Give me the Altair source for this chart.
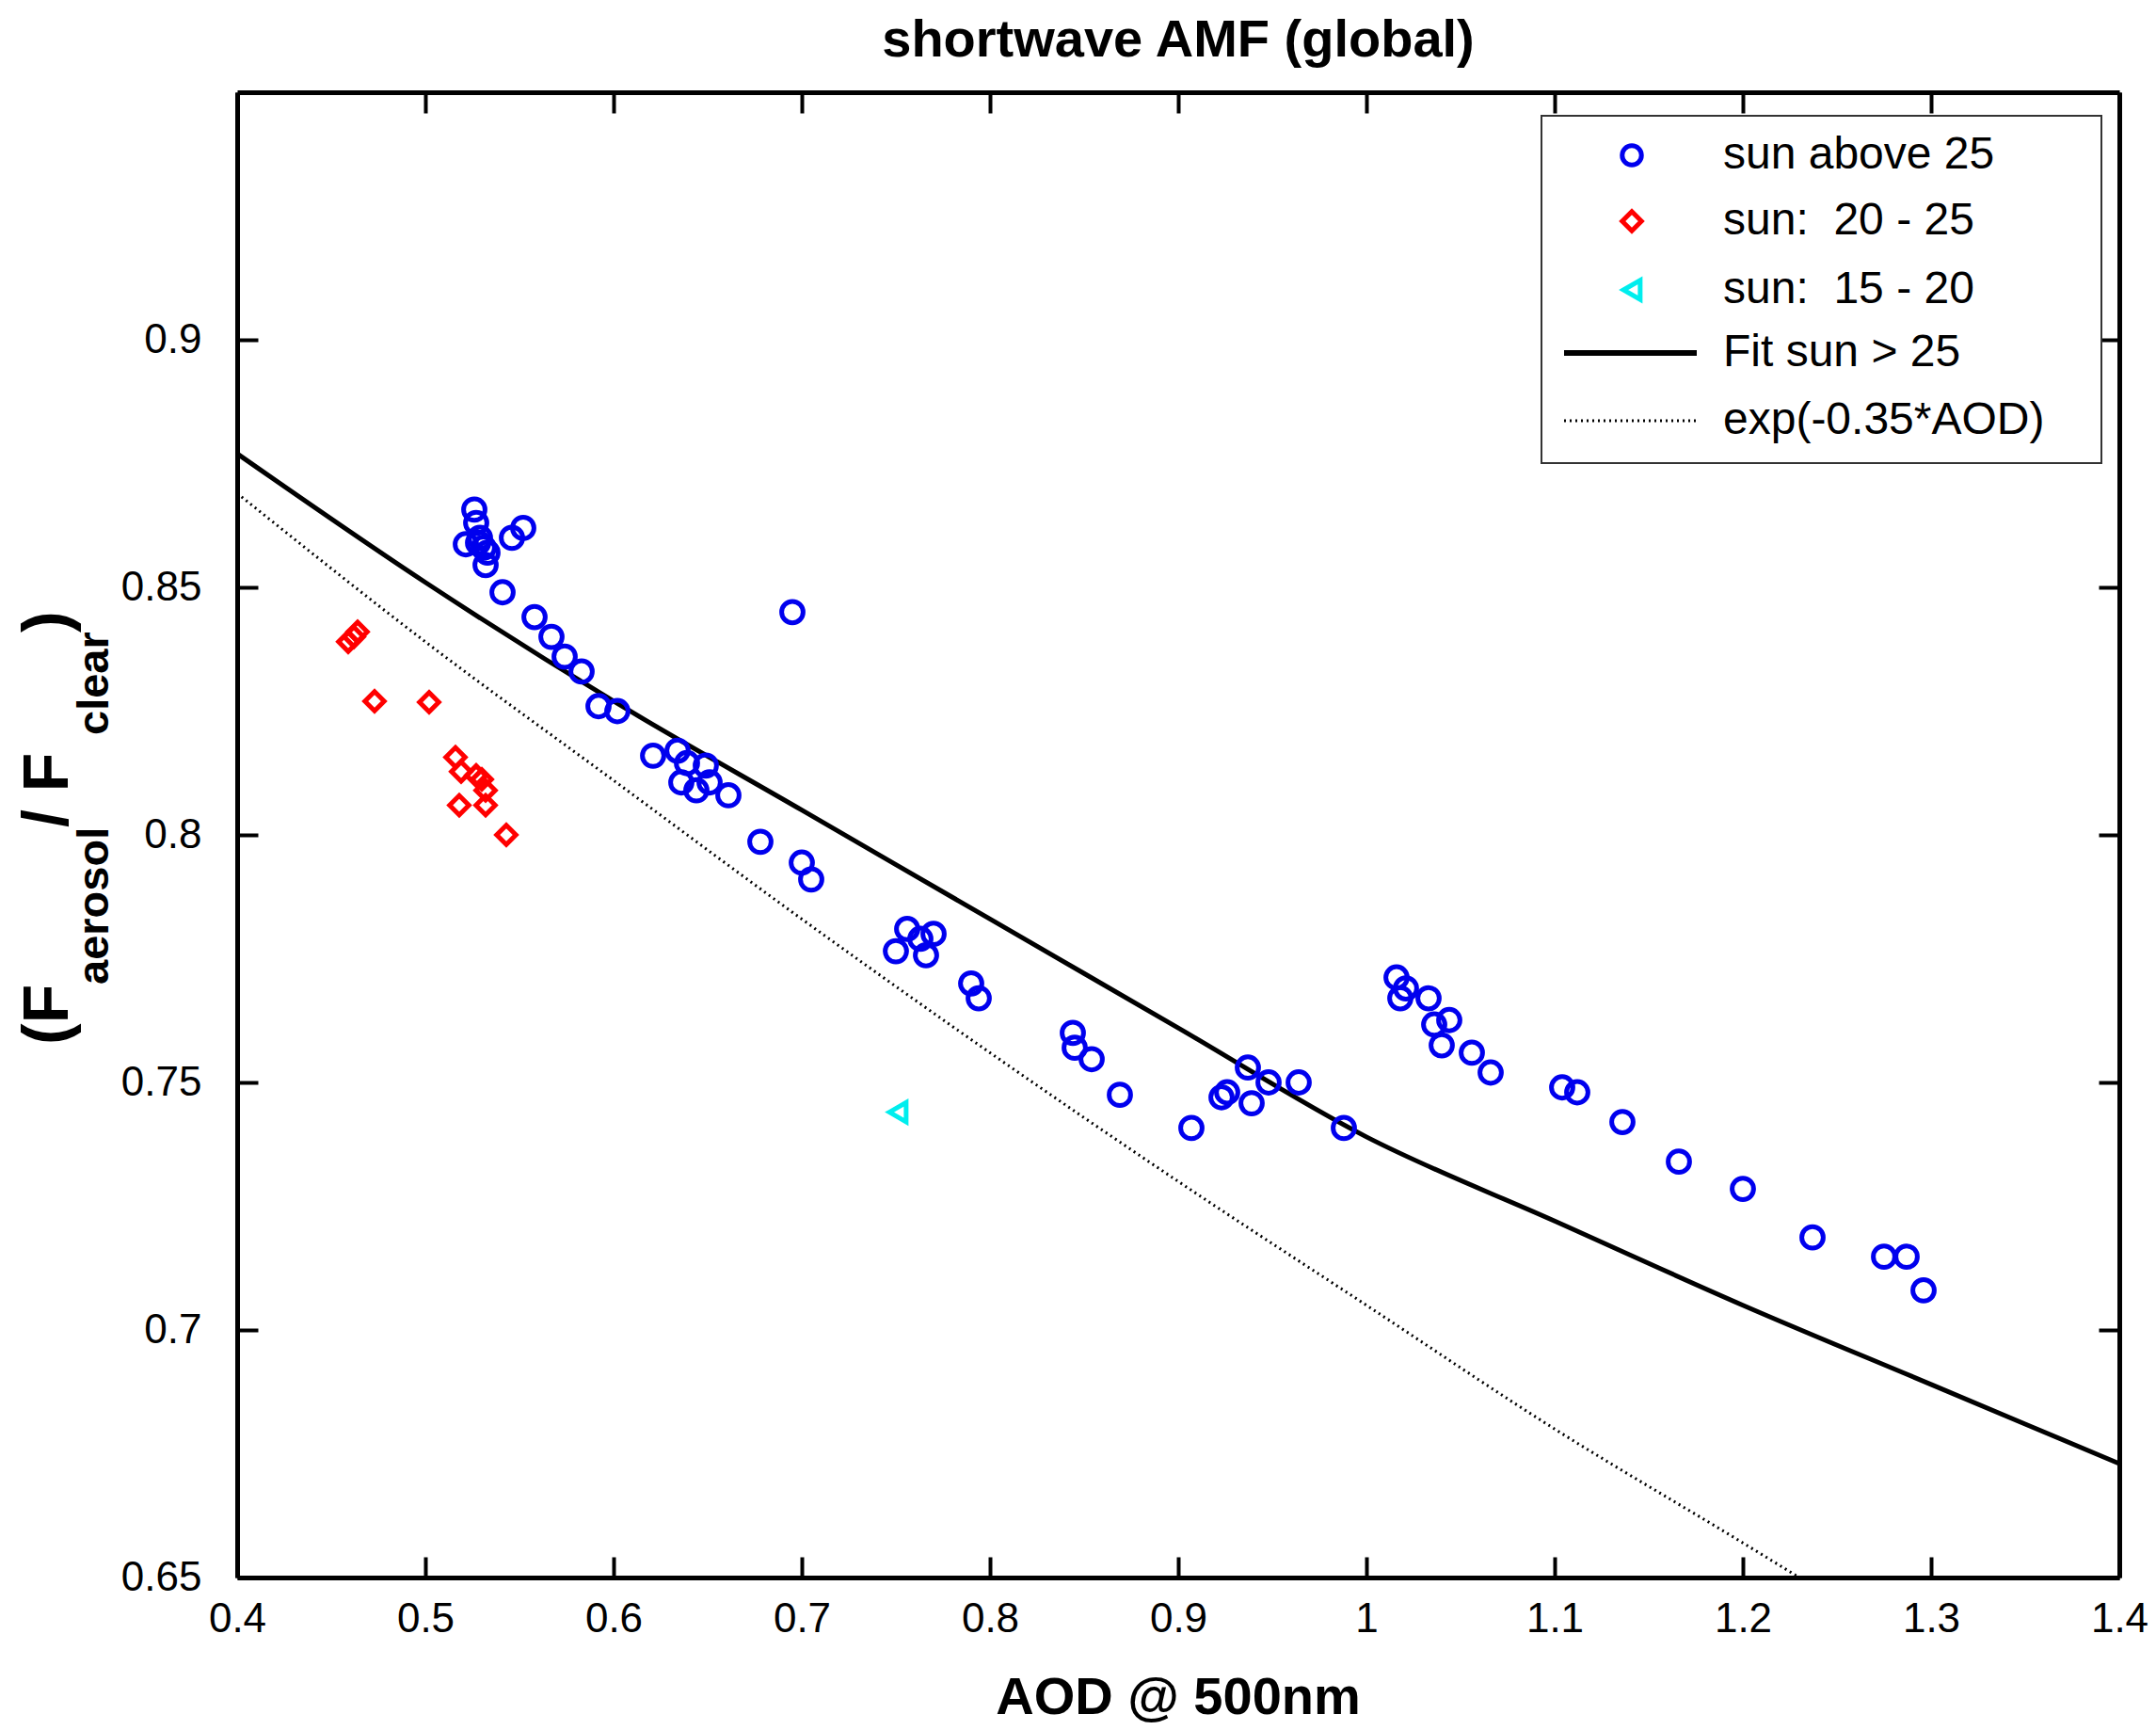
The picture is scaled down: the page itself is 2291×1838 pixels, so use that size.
import altair as alt
import pandas as pd

# sun above 25 (blue circles)
blue_x = [0.5215, 0.526, 0.527, 0.529, 0.531, 0.533, 0.528, 0.532, 0.541, 0.546, 0.552,
          0.558, 0.567, 0.574, 0.583, 0.592, 0.602, 0.621, 0.634, 0.639, 0.636, 0.644,
          0.649, 0.651, 0.661, 0.678, 0.695, 0.700, 0.705, 0.750, 0.756, 0.763, 0.770,
          0.766, 0.790, 0.794, 0.844, 0.845, 0.854, 0.869, 0.907, 0.923, 0.926, 0.937,
          0.939, 0.948, 0.964, 0.988, 1.016, 1.018, 1.021, 1.033, 1.036, 1.044, 1.040,
          1.056, 1.066, 1.104, 1.112, 1.136, 1.166, 1.200, 1.237, 1.275, 1.287, 1.296]
blue_y = [0.8587, 0.8657, 0.8630, 0.8600, 0.8580, 0.8570, 0.8590, 0.8545, 0.849, 0.860, 0.862,
          0.844, 0.840, 0.836, 0.833, 0.826, 0.825, 0.816, 0.817, 0.8145, 0.8106, 0.809,
          0.814, 0.8106, 0.808, 0.7986, 0.845, 0.7944, 0.791, 0.7765, 0.781, 0.779, 0.780,
          0.7757, 0.770, 0.767, 0.760, 0.757, 0.7547, 0.7475, 0.7408, 0.747, 0.748, 0.753,
          0.7458, 0.750, 0.750, 0.7408, 0.7712, 0.767, 0.769, 0.767, 0.7617, 0.7626, 0.7575,
          0.756, 0.752, 0.749, 0.748, 0.742, 0.734, 0.7285, 0.7187, 0.7148, 0.7148, 0.708]

# sun 20 - 25 (red diamonds)
red_x = [0.459, 0.462, 0.464, 0.473, 0.502, 0.516, 0.519, 0.518, 0.527, 0.530, 0.532, 0.532, 0.543]
red_y = [0.839, 0.840, 0.841, 0.827, 0.8268, 0.8157, 0.8128, 0.806, 0.812, 0.8112, 0.809, 0.806, 0.800]

# sun 15 - 20 (cyan triangle)
cyan_x = [0.751]
cyan_y = [0.744]

# fit sun > 25
fit_x = [0.4, 0.5, 0.6, 0.7, 0.8, 0.9, 1.0, 1.1, 1.2, 1.3, 1.4]
fit_y = [0.877, 0.851, 0.827, 0.805, 0.783, 0.761, 0.739, 0.722, 0.705, 0.689, 0.673]

# exp(-0.35*AOD)
exp_x = [0.4, 0.5, 0.6, 0.7, 0.8, 0.9, 1.0, 1.1, 1.2, 1.23]
exp_y = [0.869, 0.839, 0.811, 0.783, 0.756, 0.730, 0.705, 0.680, 0.657, 0.650]

x_ticks = [0.4, 0.5, 0.6, 0.7, 0.8, 0.9, 1.0, 1.1, 1.2, 1.3, 1.4]
y_ticks = [0.65, 0.7, 0.75, 0.8, 0.85, 0.9]

legend_labels = ['sun above 25', 'sun:\u00a0\u00a020 - 25', 'sun:\u00a0\u00a015 - 20', 'Fit sun > 25', 'exp(-0.35*AOD)']

W, H = 2000, 1578
FONT = 'Liberation Sans'
xs = alt.Scale(domain=[0.4, 1.4], nice=False, zero=False)
ys = alt.Scale(domain=[0.65, 0.95], nice=False, zero=False)

main_x = alt.Axis(values=x_ticks, labelExpr="datum.value == 1 ? '1' : format(datum.value, '.1f')",
                  title=None, tickSize=0, labelPadding=22, labelFontSize=44, labelFont=FONT, labelFlush=False,
                  labelColor='black', domainColor='black', domainWidth=5, grid=False)
main_y = alt.Axis(values=y_ticks, labelExpr="format(datum.value, '.2~f')",
                  title=None, tickSize=0, labelPadding=38, labelFontSize=44, labelFont=FONT, labelFlush=False,
                  labelColor='black', domainColor='black', domainWidth=5, grid=False)

def tick_axis(orient, vals):
    return alt.Axis(orient=orient, values=vals, labels=False, title=None, tickSize=22, offset=-22,
                    tickWidth=4, tickColor='black', domain=False, grid=False)

def frame_axis(orient):
    return alt.Axis(orient=orient, values=[], labels=False, title=None, ticks=False,
                    domainColor='black', domainWidth=5, grid=False)

blue = pd.DataFrame({'x': blue_x, 'y': blue_y})
red = pd.DataFrame({'x': red_x, 'y': red_y})
cyan = pd.DataFrame({'x': cyan_x, 'y': cyan_y})
fit = pd.DataFrame({'x': fit_x, 'y': fit_y})
expd = pd.DataFrame({'x': exp_x, 'y': exp_y})
one = pd.DataFrame({'a': [0]})

fit_line = alt.Chart(fit).mark_line(color='black', strokeWidth=5, interpolate='monotone').encode(
    x=alt.X('x:Q', scale=xs, axis=main_x), y=alt.Y('y:Q', scale=ys, axis=main_y))
exp_line = alt.Chart(expd).mark_line(color='black', strokeWidth=3, strokeDash=[2, 4], interpolate='monotone').encode(
    x=alt.X('x:Q', scale=xs, axis=tick_axis('bottom', x_ticks)), y=alt.Y('y:Q', scale=ys, axis=tick_axis('left', y_ticks)))
pts_blue = alt.Chart(blue).mark_point(shape='circle', color='#0000ee', size=520, strokeWidth=5, filled=False, opacity=1).encode(
    x=alt.X('x:Q', scale=xs, axis=tick_axis('top', x_ticks)), y=alt.Y('y:Q', scale=ys, axis=tick_axis('right', y_ticks)))
pts_red = alt.Chart(red).mark_point(shape='diamond', color='#ff0000', size=420, strokeWidth=5, filled=False, opacity=1).encode(
    x=alt.X('x:Q', scale=xs, axis=frame_axis('top')), y=alt.Y('y:Q', scale=ys, axis=frame_axis('right')))
pts_cyan = alt.Chart(cyan).mark_point(shape='triangle-left', color='#00eeee', size=420, strokeWidth=5, filled=False, opacity=1).encode(
    x=alt.X('x:Q', scale=xs, axis=None), y=alt.Y('y:Q', scale=ys, axis=None))

# legend box (pixel layout)
rows = [67, 137, 210, 277, 349]
leg = [alt.Chart(one).mark_rect(fill='white', stroke='#333333', strokeWidth=2).encode(
    x=alt.value(1386), x2=alt.value(1981), y=alt.value(25), y2=alt.value(394))]
for t, r in zip(legend_labels, rows):
    leg.append(alt.Chart(pd.DataFrame({'t': [t]})).mark_text(
        align='left', baseline='middle', font=FONT, fontSize=48, color='black').encode(
        text='t:N', x=alt.value(1579), y=alt.value(r)))
for shp, col, r in [('circle', '#0000ee', rows[0]), ('diamond', '#ff0000', rows[1]), ('triangle-left', '#00eeee', rows[2])]:
    leg.append(alt.Chart(one).mark_point(shape=shp, color=col, size=420, strokeWidth=5, filled=False, opacity=1).encode(
        x=alt.value(1482), y=alt.value(r)))
leg.append(alt.Chart(one).mark_rule(color='black', strokeWidth=6).encode(
    x=alt.value(1410), x2=alt.value(1551), y=alt.value(rows[3])))
leg.append(alt.Chart(one).mark_rule(color='black', strokeWidth=3, strokeDash=[2, 4]).encode(
    x=alt.value(1410), x2=alt.value(1551), y=alt.value(rows[4])))

# titles
title_t = alt.Chart(pd.DataFrame({'t': ['shortwave AMF (global)']})).mark_text(
    font=FONT, fontSize=56, fontWeight='bold', align='center', baseline='alphabetic', color='black').encode(
    text='t:N', x=alt.value(W / 2), y=alt.value(-38))
xtitle = alt.Chart(pd.DataFrame({'t': ['AOD @ 500nm']})).mark_text(
    font=FONT, fontSize=56, fontWeight='bold', align='center', baseline='alphabetic', color='black').encode(
    text='t:N', x=alt.value(W / 2), y=alt.value(H + 145))

# y title with subscripts, built piece by piece (rotated)
ypieces = [('(F', 68, -180, 1012), ('aerosol', 47, -137, 948), ('\u00a0/\u00a0F', 68, -180, 781),
           ('clear', 47, -137, 683), (')', 68, -180, 574)]
ytitle = []
for txt, fs, px, py in ypieces:
    ytitle.append(alt.Chart(pd.DataFrame({'t': [txt]})).mark_text(
        font=FONT, fontSize=fs, fontWeight='bold', align='left', baseline='alphabetic', angle=270, color='black').encode(
        text='t:N', x=alt.value(px), y=alt.value(py)))

chart = alt.layer(
    fit_line, exp_line, pts_blue, pts_red, pts_cyan,
    *leg, title_t, xtitle, *ytitle
).resolve_axis(x='independent', y='independent').properties(
    width=W, height=H, autosize=alt.AutoSizeParams(type='none'),
    padding={'left': 244, 'top': 90, 'right': 31, 'bottom': 160},
    background='white'
).configure_view(stroke=None)

chart.save("out.html", embed_options={"renderer": "svg", "actions": False})
